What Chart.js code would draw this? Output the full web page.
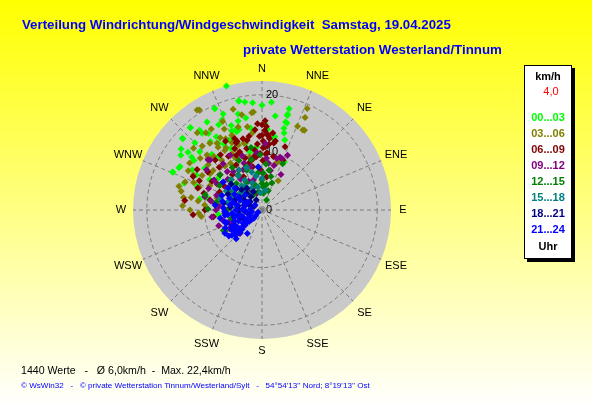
<!DOCTYPE html>
<html lang="de">
<head>
<meta charset="UTF-8">
<title>Verteilung Windrichtung/Windgeschwindigkeit</title>
<script src="https://cdn.jsdelivr.net/npm/chart.js"></script>
<style>
  html, body { margin: 0; padding: 0; }
  body {
    width: 592px; height: 407px; overflow: hidden; position: relative;
    background: linear-gradient(to bottom, #ffff00 0%, #ffffff 100%);
    font-family: "Liberation Sans", Arial, sans-serif;
  }
  #wrap { position: absolute; left: 0; top: 0; width: 592px; height: 407px; }
  .txt { position: absolute; white-space: pre; line-height: 1; transform: translateY(-50%); }
  .title { color: #0000ff; font-weight: bold; font-size: 13.2px; }
  #stats { color: #000; font-size: 11px; }
  #footer { color: #0000ff; font-size: 8.5px; }
  #legend {
    position: absolute; left: 524px; top: 65px; width: 46px; height: 192px;
    background: #fff; border: 1px solid #000; box-shadow: 3px 3px 0 #000;
  }
  .lg { position: absolute; left: 524px; width: 48px; text-align: center; line-height: 1;
        transform: translateY(-50%); font-size: 11px; font-weight: bold; }
</style>
</head>
<body>
<div id="wrap"><canvas id="windChart"></canvas></div>

<div class="txt title" id="title" style="left:22px; top:25px;">Verteilung Windrichtung/Windgeschwindigkeit  Samstag, 19.04.2025</div>
<div class="txt title" id="subtitle" style="left:243px; top:50px;">private Wetterstation Westerland/Tinnum</div>
<div class="txt" id="stats" style="left:21px; top:370px;">1440 Werte   -   Ø 6,0km/h  -  Max. 22,4km/h</div>
<div class="txt" id="footer" style="left:21px; top:386px;">© WsWin32   -   © private Wetterstation Tinnum/Westerland/Sylt   -   54°54'13'' Nord; 8°19'13'' Ost</div>
<div id="legend"></div>

<script>
// --- data: [direction in degrees (0 = N, clockwise), speed km/h] per 3-hour band
const h00_03 = [[344,22.4],[348,19.4],[0,18.2],[355,18.7],[335,19.5],[338,18.0],[346,17.2],[319,19.0],[322,17.6],[312,18.5],
  [308,16.3],[307,17.6],[339,14.7],[328,15.0],[325,16.2],[313,14.8],[306,14.6],[333,12.0],[351,19.0],[5,18.8],
  [15,18.2],[15,17.2],[16,15.7],[16,13.9],[18,12.8],[10,12.9],[352,14.4],[342,14.7],[2,15.0],[25,9.2],
  [307,15.3],[297,16.2],[293,16.9],[289,14.3],[298,12.9],[306,12.3],[264,7.6],[282,9.5],[348,19.3],[335,19.4],
  [350,16.2],[333,16.6],[336,17.1],[319,18.9],[312,18.6],[322,16.9],[293,16.8],[298,16.1],[342,14.3],[346,11.9],
  [10,12.4],[15,14.7],[15,15.8],[15,17.0],[321,12.0],[306,9.4],[274,7.9],[348,10.3],[335,13.4],[355,11.0],
  [344,14.5],[323,14.9],[340,15.6],[330,13.2],[318,13.0],[345,16.0],[4,14.0],[8,16.5],[328,18.0],
  [300,14.0],[315,16.5],[327,13.8],[304,17.0],[290,12.0],[280,11.0],[340,12.5],[300,10.5]];
const h03_06 = [[328,20.5],[327,20.7],[344,18.2],[354,17.0],[350,14.7],[336,16.8],[328,16.6],[324,16.6],[317,15.2],[322,14.7],
  [325,13.3],[332,11.0],[321,11.1],[353,13.5],[315,13.5],[348,16.9],[355,17.1],[24,19.3],[25,17.7],[28,15.7],
  [23,15.8],[336,11.6],[18,8.8],[286,15.0],[283,14.4],[279,13.8],[273,13.8],[264,10.6],[297,13.4],[27,15.6],
  [17,8.5],[29,5.8],[290,14.2],[267,11.0],[333,13.9],[330,14.5],[336,12.8],[314,13.0],[309,10.9],[290,11.6],
  [285,8.1],[333,10.2],[347,9.5],[340,12.0],[328,12.2],[318,12.5],[310,14.0],[300,12.0],[295,10.0],[278,11.2],
  [270,12.5],[344,15.0],[338,14.0],[320,17.5],[312,16.0],[303,15.0],[292,12.8],[326,9.8],[340,10.0],
  [305,11.0],[310,12.2],[298,14.5],[320,10.0],[330,12.5],[345,12.0],[280,12.5],[275,10.0],[300,9.0],[335,15.5],[326,14.0]];
const h06_09 = [[0,13.0],[5,12.9],[11,12.2],[20,11.7],[353,9.6],[1,10.8],[339,13.3],[358,12.8],[339,12.5],[348,12.4],
  [339,10.8],[346,11.0],[332,13.5],[266,12.0],[277,13.5],[289,11.8],[2,13.8],[4,13.2],[6,12.5],[1,12.0],
  [3,11.0],[6,11.5],[4,9.7],[1,8.6],[10,11.8],[8,5.8],[353,10.5],[354,9.3],[348,7.7],[340,12.7],
  [336,11.7],[323,12.0],[317,11.9],[302,13.3],[296,13.3],[281,9.2],[278,8.2],[270,9.9],[247,6.0],[293,8.0],
  [302,7.6],[331,6.6],[23,9.4],[355,14.0],[358,7.0],[345,8.5],[330,9.0],[320,8.0],[310,9.5],[300,10.0],
  [286,10.5],[262,8.5],[2,15.5],[357,15.0],[350,13.0],[3,14.5],[0,14.8],
  [350,9.0],[342,9.5],[335,10.5],[356,11.5],[345,12.8],[328,11.0],[315,10.5],[305,11.5],[295,12.0],[358,9.8],
  [5,10.0],[12,9.5],[8,13.5]];
const h09_12 = [[313,12.8],[302,9.8],[251,5.9],[224,5.5],[338,4.1],[19,9.7],[339,8.7],[21,9.6],[16,9.3],[8,8.2],
  [314,12.5],[306,11.9],[262,8.8],[223,5.6],[303,8.4],[302,7.2],[335,7.7],[345,7.8],[323,8.3],[344,5.4],
  [342,3.0],[329,4.0],[283,10.2],[288,8.3],[355,10.0],[0,6.5],[350,6.0],[320,10.5],[330,11.0],[310,6.0],
  [295,6.5],[275,7.5],[265,6.5],[255,7.0],[240,6.5],[232,6.0],[285,5.0],[12,7.0],[25,10.5],[340,10.0],[3,11.5],
  [348,9.0],[330,8.0],[318,9.0],[312,8.0],[300,9.0],[292,10.0],[280,9.0],[270,8.0],[335,5.5],[325,6.5],
  [5,9.0],[15,8.0],[28,7.0],[250,8.0]];
const h12_15 = [[354,6.5],[25,1.9],[306,4.4],[240,7.4],[326,7.4],[24,8.8],[0,5.2],[3,4.0],[2,6.4],[0,4.6],
  [349,3.2],[5,2.9],[339,7.4],[307,4.8],[242,7.3],[348,8.9],[313,7.6],[316,6.4],[358,9.6],[285,10.2],
  [271,9.4],[242,7.6],[15,6.0],[10,4.5],[330,5.5],[320,3.5],[295,5.5],[270,6.0],[255,5.5],[345,4.5],
  [20,5.0],[335,9.5],[300,8.5],[5,8.0],[350,11.0],
  [325,9.0],[310,9.5],[340,8.0],[300,6.5],[290,7.5],[280,8.0],[355,7.5],[10,7.0],[18,3.5],[330,3.0]];
const h15_18 = [[330,6.0],[320,5.5],[340,5.0],[310,6.5],[300,5.8],[325,7.2],[345,6.8],[315,4.5],[335,4.2],[305,4.8],
  [290,5.5],[350,4.0],[320,3.5],[298,7.0],[282,6.2],[355,3.0],[10,3.5],[330,8.0],[275,4.5],[260,4.0],
  [315,7.5],[340,7.8],[305,6.0],[295,4.0],[350,6.0],[0,5.5],[325,5.0],[285,7.5]];
const h18_21 = [[317,3.9],[300,4.5],[290,5.0],[310,5.8],[280,4.2],[320,3.0],[305,2.5],[295,6.5],[285,3.2],[275,5.5],
  [270,4.0],[300,3.6],[315,5.0],[325,4.6],[290,2.2],[265,3.0],[280,6.8],[310,7.0],[335,3.5],[260,5.0],
  [250,4.0],[255,2.5],[240,3.5],[295,1.5],[330,2.0]];
const h21_24 = [[224,5.5],[230,6.8],[244,7.1],[259,7.4],[276,8.2],[290,7.4],[309,6.0],[311,3.9],[247,2.3],[306,1.5],
  [228,3.9],[258,4.3],[279,5.6],[294,4.2],[240,0.8],[241,5.4],[262,6.0],[355,7.5],[306,8.3],[285,5.2],
  [228,1.5],[228,2.5],[228,3.0],[229,4.5],[230,5.0],[232,5.8],[226,6.3],[235,4.0],[238,3.0],[250,3.5],
  [255,5.0],[265,2.8],[270,4.5],[250,6.5],[268,6.5],[285,3.0],[300,2.8],[282,7.0],[236,6.0],[245,4.5],
  [260,1.8],[275,2.0],[290,6.0],[300,5.5],[232,7.3],[222,6.7],[238,7.6],[212,4.8],[229,6.2],[237,6.3],
  [262,6.5],[273,6.7],[303,7.0],[225,2.0],[232,3.5],[226,4.8],[234,5.2],[242,6.0],[252,6.8],[248,5.2],
  [256,3.8],[264,5.2],[272,3.4],[280,4.4],[292,3.2],[298,4.6]];

const hourBands = ['00...03', '03...06', '06...09', '09...12', '12...15', '15...18', '18...21', '21...24'];
const bandData = [h00_03, h03_06, h06_09, h09_12, h12_15, h15_18, h18_21, h21_24];
const bandColors = ['#00ff00', '#808000', '#800000', '#800080', '#008000', '#008080', '#000080', '#0000ff'];

const directionLabels = ['N', 'NNE', 'NE', 'ENE', 'E', 'ESE', 'SE', 'SSE', 'S', 'SSW', 'SW', 'WSW', 'W', 'WNW', 'NW', 'NNW'];
const ringTicks = [0, 10, 20];
const speedMax = 22.4;
const legendUnit = 'km/h';
const legendScale = '4,0';

// --- legend box (HTML)
function addLegendText(text, y, color, bold) {
    const el = document.createElement('div');
    el.className = 'lg';
    el.textContent = text;
    el.style.top = y + 'px';
    el.style.color = color;
    if (!bold) el.style.fontWeight = 'normal';
    document.body.appendChild(el);
    return el;
}
addLegendText(legendUnit, 76, '#000', true);
addLegendText(legendScale, 91, '#ff0000', false).style.left = '527px';
hourBands.forEach((band, i) => addLegendText(band, 117 + i * 16, bandColors[i], true));
addLegendText('Uhr', 246, '#000', true);

// --- stretch header/footer text to the widths of the original
function fitWidth(id, w) {
    const el = document.getElementById(id);
    const fs = parseFloat(getComputedStyle(el).fontSize);
    el.style.fontSize = (fs * w / el.getBoundingClientRect().width) + 'px';
}
fitWidth('title', 429);
fitWidth('subtitle', 259);
fitWidth('stats', 210);
fitWidth('footer', 349);

// --- polar grid drawn on the x/y scales
const rad = d => d * Math.PI / 180;
const polarGrid = {
    id: 'polarGrid',
    beforeDatasetsDraw(chart) {
        const { ctx, scales: { x, y } } = chart;
        const cx = x.getPixelForValue(0);
        const cy = y.getPixelForValue(0);
        const R = x.getPixelForValue(speedMax) - cx;
        ctx.save();
        ctx.fillStyle = '#c9c9c9';
        ctx.beginPath();
        ctx.arc(cx, cy, R, 0, Math.PI * 2);
        ctx.fill();

        ctx.strokeStyle = '#7c7c7c';
        ctx.lineWidth = 1;
        ctx.setLineDash([4, 3]);
        ringTicks.forEach(v => {
            if (v <= 0) return;
            const r = x.getPixelForValue(v) - cx;
            ctx.beginPath();
            ctx.arc(cx, cy, r, 0, Math.PI * 2);
            ctx.stroke();
        });
        directionLabels.forEach((lbl, i) => {
            const a = rad(i * 22.5);
            ctx.beginPath();
            ctx.moveTo(cx, cy);
            ctx.lineTo(cx + R * Math.sin(a), cy - R * Math.cos(a));
            ctx.stroke();
        });
        ctx.setLineDash([]);

        ctx.fillStyle = '#000';
        ctx.font = '11px "Liberation Sans", Arial, sans-serif';
        ctx.textAlign = 'center';
        ctx.textBaseline = 'middle';
        directionLabels.forEach((lbl, i) => {
            const a = rad(i * 22.5);
            const off = i % 4 === 0 ? 12 : 16;
            ctx.fillText(lbl, cx + (R + off) * Math.sin(a), cy - (R + off) * Math.cos(a));
        });
        ctx.textAlign = 'left';
        ringTicks.forEach(v => {
            const r = x.getPixelForValue(v) - cx;
            ctx.fillText(String(v), cx + 4, cy - r);
        });
        ctx.restore();
    }
};

// --- chart
const datasets = hourBands.map((band, i) => ({
    label: band,
    data: bandData[i].map(([d, s]) => ({ x: s * Math.sin(rad(d)), y: s * Math.cos(rad(d)) })),
    backgroundColor: bandColors[i],
    borderWidth: 0,
    pointStyle: 'rectRot',
    pointRadius: 3.5,
    order: hourBands.length - i,
    clip: false
}));

new Chart(document.getElementById('windChart'), {
    type: 'scatter',
    data: { datasets },
    options: {
        responsive: true,
        maintainAspectRatio: false,
        animation: false,
        layout: { padding: { left: 133, right: 201, top: 81, bottom: 68 } },
        scales: {
            x: { type: 'linear', min: -speedMax, max: speedMax, display: false },
            y: { type: 'linear', min: -speedMax, max: speedMax, display: false }
        },
        plugins: {
            legend: { display: false },
            title: { display: false },
            tooltip: { enabled: false }
        }
    },
    plugins: [polarGrid]
});
</script>
</body>
</html>
